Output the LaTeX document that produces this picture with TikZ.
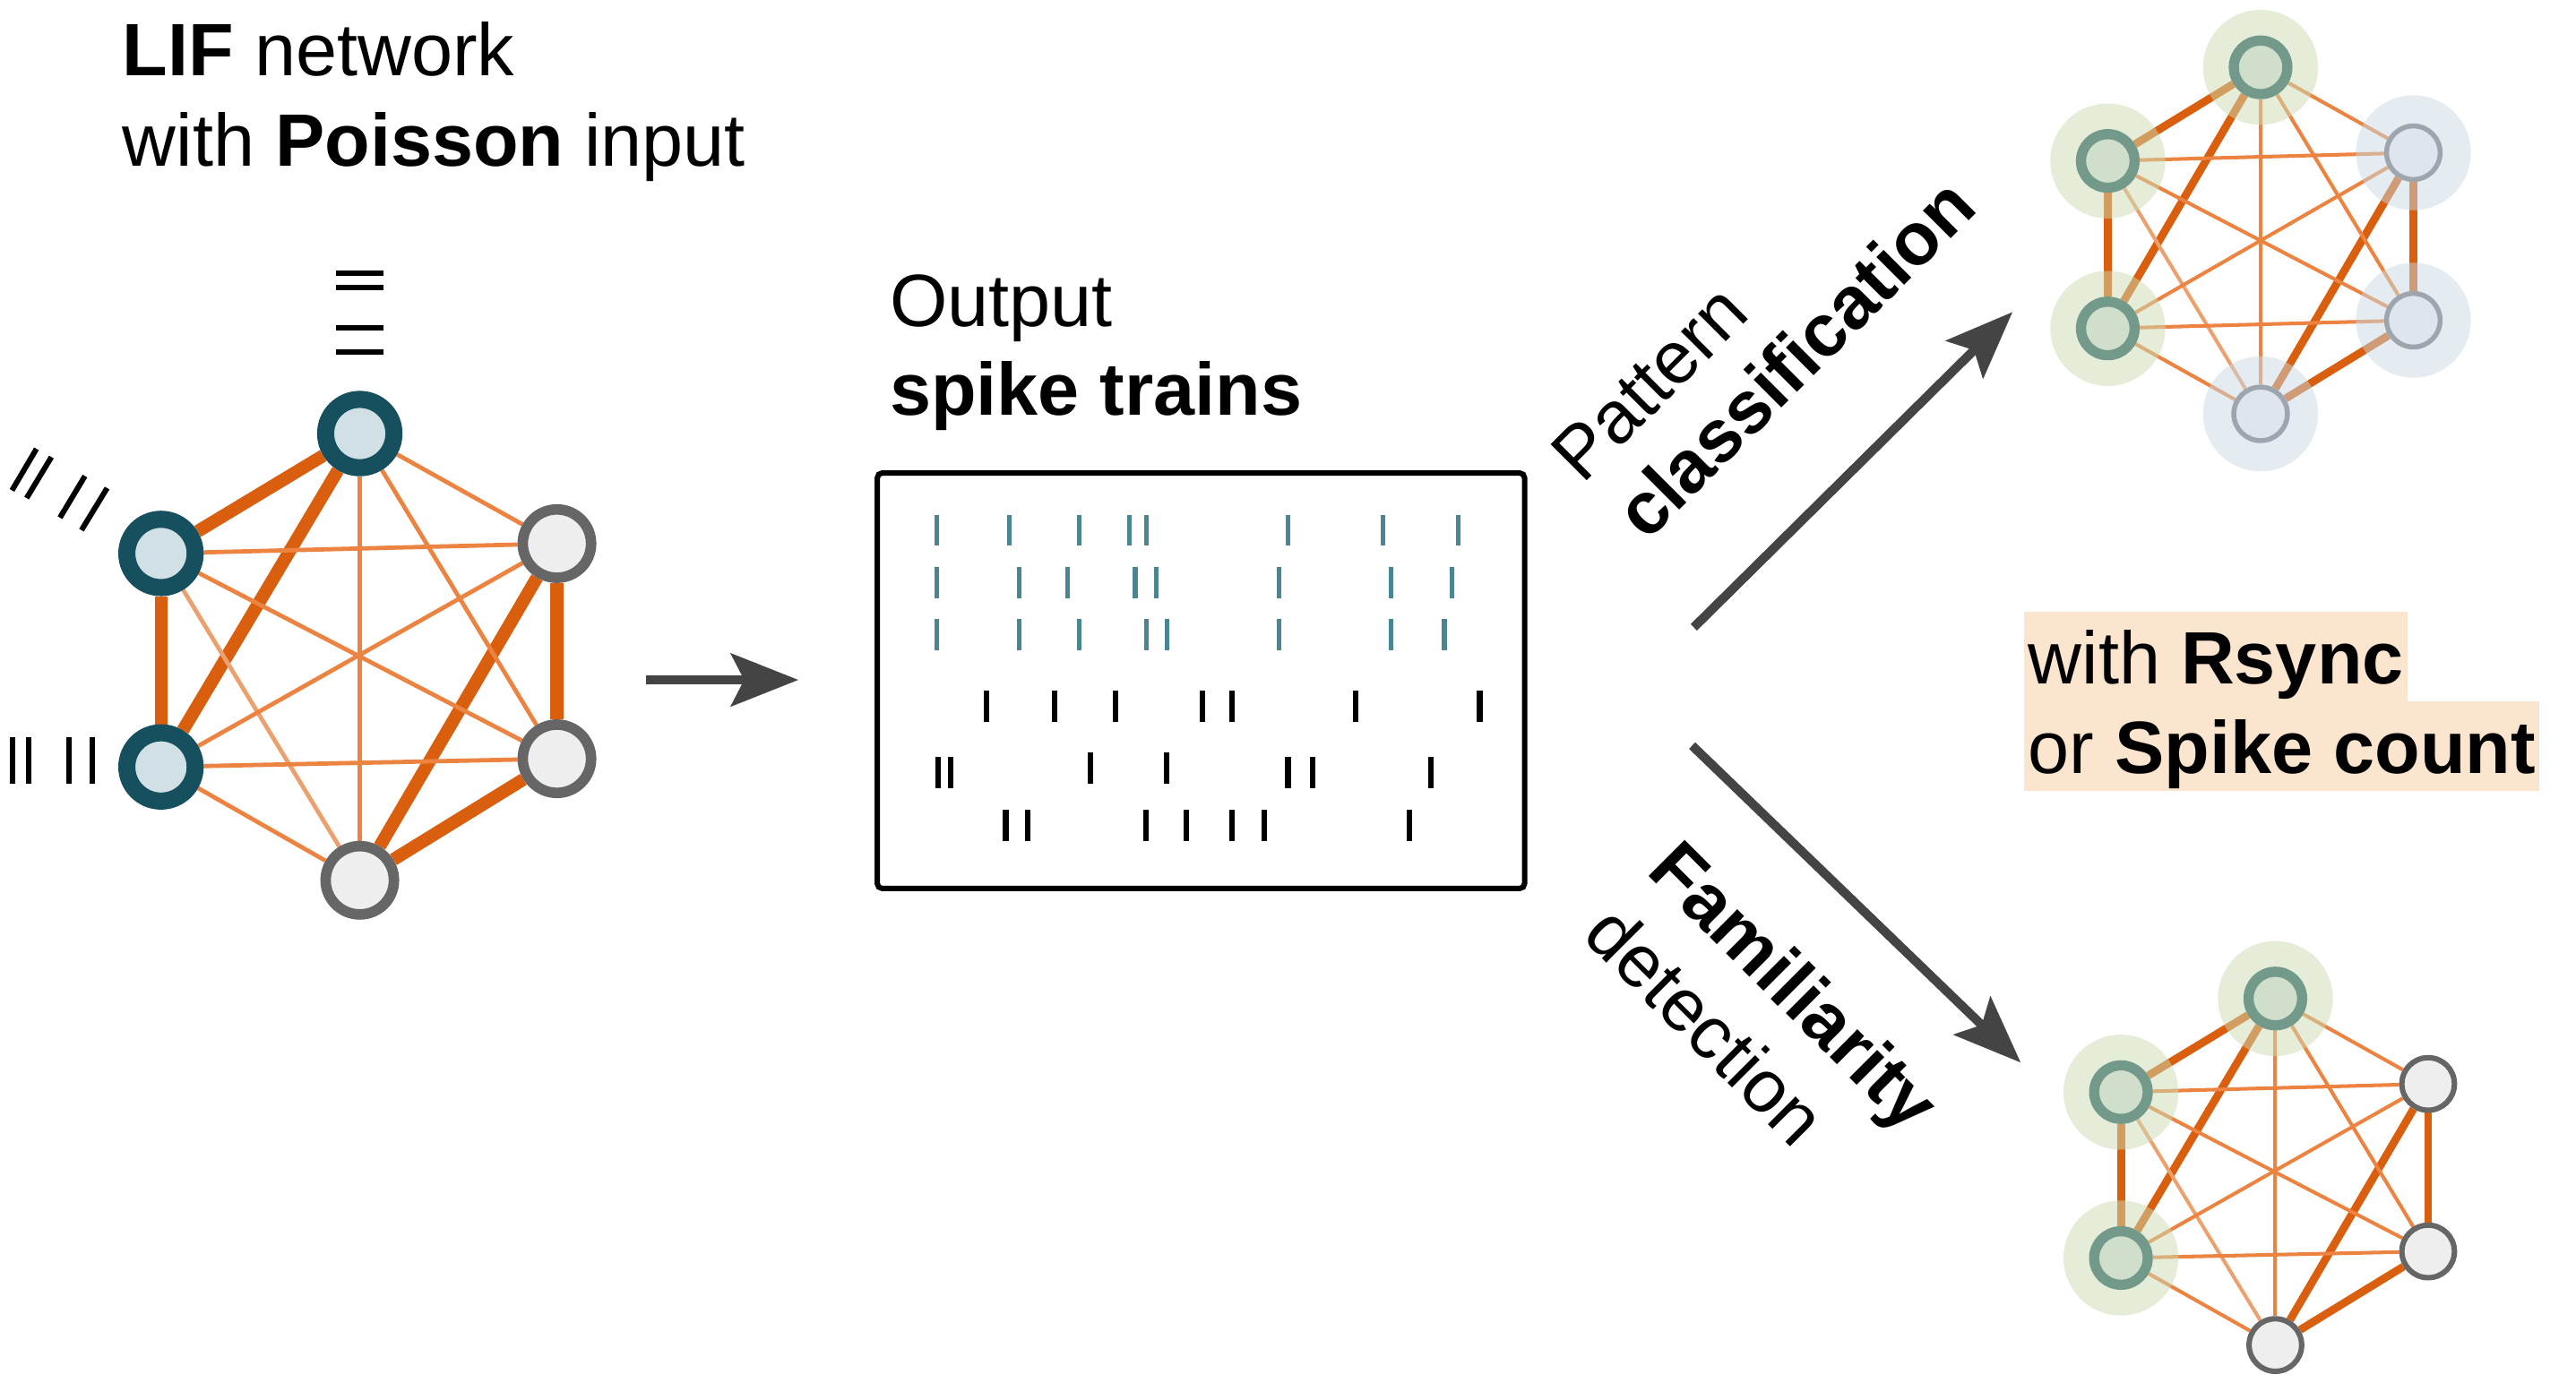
\documentclass[tikz,border=0pt]{standalone}
\usepackage{fontspec}
\setmainfont{Liberation Sans}
\usetikzlibrary{arrows.meta}
\pgfdeclarelayer{edges}
\pgfdeclarelayer{halos}
\pgfsetlayers{edges,halos,main}

\begin{document}
\begin{tikzpicture}[x=0.1mm,y=-0.1mm,
  font=\fontsize{12.85pt}{15.5pt}\selectfont,
  lbl/.style={inner sep=0pt,anchor=base west},
  vtx_on/.style={circle,draw=col_on_line,fill=col_on_fill,line width=1.04mm,minimum size=4.16mm,inner sep=0pt},
  vtx_off/.style={circle,draw=col_off_line,fill=col_off_fill,line width=0.64mm,minimum size=4.16mm,inner sep=0pt},
  vtx_pat/.style={circle,draw=col_pat_line,fill=col_pat_fill,line width=0.62mm,minimum size=3.26mm,inner sep=0pt},
  vtx_rest/.style={circle,draw=col_rest_line,fill=col_rest_fill,line width=0.30mm,minimum size=3.26mm,inner sep=0pt},
  vtx_nov/.style={circle,draw=col_off_line,fill=col_off_fill,line width=0.33mm,minimum size=3.2mm,inner sep=0pt},
  halo_pat/.style={circle,fill=col_halo_pat,fill opacity=0.5,minimum size=7mm,inner sep=0pt},
  halo_rest/.style={circle,fill=col_halo_rest,fill opacity=0.5,minimum size=7mm,inner sep=0pt},
  strong/.style={draw=col_strong,line width=0.78mm},
  weak/.style={draw=col_weak,line width=0.26mm},
  faint/.style={draw=col_faint,line width=0.26mm},
  strong_s/.style={draw=col_strong,line width=0.48mm},
  weak_s/.style={draw=col_weak,line width=0.22mm},
  faint_s/.style={draw=col_faint,line width=0.22mm},
  flow/.style={draw=col_arrow,line width=0.55mm,-{Stealth[length=4.1mm,width=3.2mm,inset=0.8mm]}},
  poisson/.style={draw=black,line width=0.33mm},
  hl/.style={inner xsep=0.25mm,inner ysep=0pt,text height=4.36mm,text depth=1.09mm,fill=col_hl,anchor=base west}]
%
\definecolor{col_on_line}{rgb}{0.086,0.310,0.369}
\definecolor{col_on_fill}{rgb}{0.816,0.878,0.894}
\definecolor{col_off_line}{rgb}{0.400,0.400,0.400}
\definecolor{col_off_fill}{rgb}{0.933,0.933,0.933}
\definecolor{col_pat_line}{rgb}{0.451,0.600,0.541}
\definecolor{col_pat_fill}{rgb}{0.812,0.875,0.796}
\definecolor{col_rest_line}{rgb}{0.616,0.651,0.682}
\definecolor{col_rest_fill}{rgb}{0.871,0.898,0.925}
\definecolor{col_halo_pat}{rgb}{0.796,0.859,0.702}
\definecolor{col_halo_rest}{rgb}{0.788,0.851,0.890}
%
\definecolor{col_strong}{rgb}{0.851,0.373,0.055}
\definecolor{col_weak}{rgb}{0.925,0.514,0.251}
\definecolor{col_faint}{rgb}{0.922,0.627,0.427}
%
\definecolor{col_arrow}{rgb}{0.267,0.267,0.267}
\definecolor{col_spk}{rgb}{0.290,0.525,0.573}
\definecolor{col_hl}{rgb}{0.988,0.898,0.808}
%
\useasboundingbox (0,0) rectangle (1568,852);
%
% titles
\node[lbl] (t_lif) at (74,46) {\textbf{LIF} network};
\node[lbl] (t_poi) at (74,101) {with \textbf{Poisson} input};
\node[lbl] (t_out) at (541,199) {Output};
\node[lbl] (t_spk) at (541,253) {\textbf{spike trains}};
%
% LIF network
\node[vtx_on] (a0) at (219,264) {};
\node[vtx_on] (a1) at (98,337) {};
\node[vtx_on] (a2) at (98,467) {};
\node[vtx_off] (a3) at (219,536) {};
\node[vtx_off] (a4) at (339,462) {};
\node[vtx_off] (a5) at (339,331) {};
%
\begin{pgfonlayer}{edges}
\draw[strong] (a0) -- (a1);
\draw[strong] (a0) -- (a2);
\draw[strong] (a1) -- (a2);
\draw[strong] (a5) -- (a3);
\draw[strong] (a5) -- (a4);
\draw[strong] (a4) -- (a3);
\draw[weak] (a0) -- (a5);
\draw[weak] (a0) -- (a3);
\draw[weak] (a0) -- (a4);
\draw[weak] (a1) -- (a5);
\draw[weak] (a1) -- (a4);
\draw[faint] (a1) -- (a3);
\draw[weak] (a2) -- (a5);
\draw[weak] (a2) -- (a4);
\draw[weak] (a2) -- (a3);
\end{pgfonlayer}
%
% Poisson input
\draw[poisson] (204.5,166.4) -- (233.5,166.4) (204.5,175.3) -- (233.5,175.3)
  (204.5,199.8) -- (233.5,199.8) (204.5,214.3) -- (233.5,214.3);
\draw[poisson] (7.3,298.6) -- (22.2,273.3) (16.2,303.3) -- (31.3,278.3)
  (36.5,315.2) -- (51.7,289.9) (49.6,322.8) -- (65.2,297.2);
\draw[poisson] (7.8,449) -- (7.8,477) (17.5,449) -- (17.5,477)
  (41.8,449) -- (41.8,477) (56.1,449) -- (56.1,477);
%
\coordinate (in0) at (393,414);
\coordinate (in1) at (486,414);
\draw[flow] (in0) -- (in1);
%
% raster
\draw[line width=0.33mm,rounded corners=0.3mm] (534,288) rectangle (928,541);
\draw[col_spk,line width=0.28mm]
  (570.2,313.7) -- (570.2,332.4) (614.5,313.7) -- (614.5,332.4) (657.1,313.7) -- (657.1,332.4)
  (687.4,313.7) -- (687.4,332.4) (697.7,313.7) -- (697.7,332.4) (784.0,313.7) -- (784.0,332.4)
  (841.9,313.7) -- (841.9,332.4) (887.6,313.7) -- (887.6,332.4);
\draw[col_spk,line width=0.28mm]
  (570.2,345.4) -- (570.2,364.3) (620.6,345.4) -- (620.6,364.3) (649.8,345.4) -- (649.8,364.3)
  (691.0,345.4) -- (691.0,364.3) (703.8,345.4) -- (703.8,364.3) (778.4,345.4) -- (778.4,364.3)
  (846.9,345.4) -- (846.9,364.3) (883.7,345.4) -- (883.7,364.3);
\draw[col_spk,line width=0.28mm]
  (570.2,377.1) -- (570.2,396.2) (620.6,377.1) -- (620.6,396.2) (657.1,377.1) -- (657.1,396.2)
  (697.7,377.1) -- (697.7,396.2) (710.2,377.1) -- (710.2,396.2) (778.4,377.1) -- (778.4,396.2)
  (846.9,377.1) -- (846.9,396.2) (879.2,377.1) -- (879.2,396.2);
\draw[black,line width=0.33mm]
  (600.3,420.5) -- (600.3,439.6) (642.0,420.5) -- (642.0,439.6) (678.8,420.5) -- (678.8,439.6)
  (732.0,420.5) -- (732.0,439.6) (750.0,420.5) -- (750.0,439.6) (825.2,420.5) -- (825.2,439.6)
  (900.7,420.5) -- (900.7,439.6);
\draw[black,line width=0.33mm]
  (571.0,460.9) -- (571.0,479.9) (578.5,460.9) -- (578.5,479.9) (663.7,458.1) -- (663.7,477.2)
  (710.2,458.1) -- (710.2,477.2) (784.0,460.9) -- (784.0,479.9) (798.8,460.9) -- (798.8,479.9)
  (871.1,460.9) -- (871.1,479.9);
\draw[black,line width=0.33mm]
  (612.2,493.3) -- (612.2,512.2) (625.6,493.3) -- (625.6,512.2) (697.7,493.3) -- (697.7,512.2)
  (721.9,493.3) -- (721.9,512.2) (750.0,493.3) -- (750.0,512.2) (769.8,493.3) -- (769.8,512.2)
  (857.8,493.3) -- (857.8,512.2);
%
% readout arrows
\coordinate (up0) at (1031,382);
\coordinate (up1) at (1225,190);
\draw[flow] (up0) -- (up1);
\node[lbl,rotate=45] (t_pat) at (963,296) {Pattern};
\node[lbl,rotate=45] (t_cls) at (1002,331) {\textbf{classification}};
%
\coordinate (dn0) at (1030,454);
\coordinate (dn1) at (1230,647);
\draw[flow] (dn0) -- (dn1);
\node[lbl,rotate=-45] (t_fam) at (1001,531) {\textbf{Familiarity}};
\node[lbl,rotate=-45] (t_det) at (962,570) {detection};
%
\node[hl] (t_rs) at (1231.5,416.3) {with \textbf{Rsync}};
\node[hl] (t_sc) at (1231.5,470.9) {or \textbf{Spike count}};
%
% classification network
\node[vtx_pat] (b0) at (1376,41) {};
\node[vtx_pat] (b1) at (1283,98) {};
\node[vtx_pat] (b2) at (1283,200) {};
\node[vtx_rest] (b3) at (1376,252) {};
\node[vtx_rest] (b4) at (1469,195) {};
\node[vtx_rest] (b5) at (1469,93) {};
%
\begin{pgfonlayer}{halos}
\node[halo_pat] at (b0) {};
\node[halo_pat] at (b1) {};
\node[halo_pat] at (b2) {};
\node[halo_rest] at (b3) {};
\node[halo_rest] at (b4) {};
\node[halo_rest] at (b5) {};
\end{pgfonlayer}
%
\begin{pgfonlayer}{edges}
\draw[strong_s] (b0) -- (b1);
\draw[strong_s] (b0) -- (b2);
\draw[strong_s] (b1) -- (b2);
\draw[strong_s] (b5) -- (b3);
\draw[strong_s] (b5) -- (b4);
\draw[strong_s] (b4) -- (b3);
\draw[weak_s] (b0) -- (b5);
\draw[weak_s] (b0) -- (b3);
\draw[weak_s] (b0) -- (b4);
\draw[weak_s] (b1) -- (b5);
\draw[weak_s] (b1) -- (b4);
\draw[faint_s] (b1) -- (b3);
\draw[weak_s] (b2) -- (b5);
\draw[weak_s] (b2) -- (b4);
\draw[weak_s] (b2) -- (b3);
\end{pgfonlayer}
%
% familiarity network
\node[vtx_pat] (c0) at (1385,608) {};
\node[vtx_pat] (c1) at (1291,665) {};
\node[vtx_pat] (c2) at (1291,766) {};
\node[vtx_nov] (c3) at (1385,819) {};
\node[vtx_nov] (c4) at (1478,762) {};
\node[vtx_nov] (c5) at (1478,660) {};
%
\begin{pgfonlayer}{halos}
\node[halo_pat] at (c0) {};
\node[halo_pat] at (c1) {};
\node[halo_pat] at (c2) {};
\end{pgfonlayer}
%
\begin{pgfonlayer}{edges}
\draw[strong_s] (c0) -- (c1);
\draw[strong_s] (c0) -- (c2);
\draw[strong_s] (c1) -- (c2);
\draw[strong_s] (c5) -- (c3);
\draw[strong_s] (c5) -- (c4);
\draw[strong_s] (c4) -- (c3);
\draw[weak_s] (c0) -- (c5);
\draw[weak_s] (c0) -- (c3);
\draw[weak_s] (c0) -- (c4);
\draw[weak_s] (c1) -- (c5);
\draw[weak_s] (c1) -- (c4);
\draw[faint_s] (c1) -- (c3);
\draw[weak_s] (c2) -- (c5);
\draw[weak_s] (c2) -- (c4);
\draw[weak_s] (c2) -- (c3);
\end{pgfonlayer}
%
\end{tikzpicture}
\end{document}
